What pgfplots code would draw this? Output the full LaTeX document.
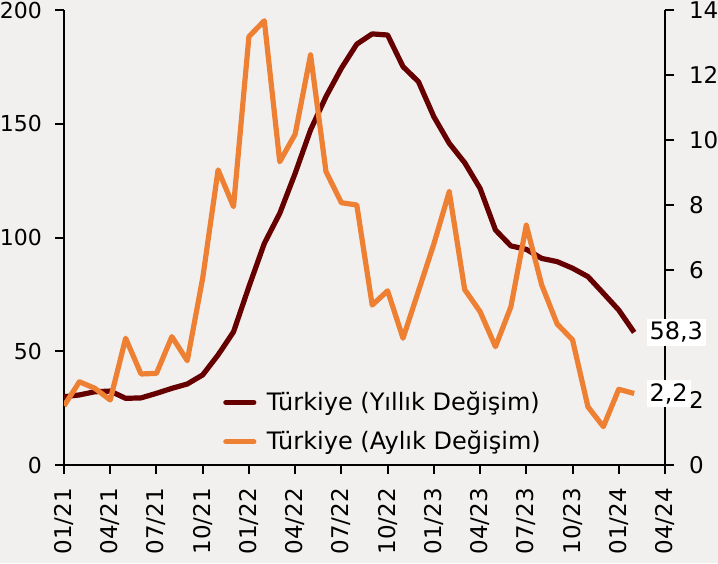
\documentclass[border=0pt]{standalone}
\usepackage{fontspec}
\setmainfont{DejaVu Sans}
\usepackage{pgfplots}
\usepackage{pgfplotstable}
\pgfplotsset{compat=1.18}
\definecolor{bg}{RGB}{242,240,239}
\definecolor{annual}{RGB}{102,0,0}
\definecolor{monthly}{RGB}{238,128,51}

\pgfplotstableread{
i v
0 30.0
1 30.8
2 32.2
3 32.5
4 29.3
5 29.5
6 31.5
7 33.7
8 35.6
9 39.6
10 48.4
11 58.5
12 78.4
13 97.4
14 110.6
15 128.2
16 147.3
17 161.9
18 174.4
19 185.0
20 189.5
21 189.0
22 175.1
23 168.5
24 153.1
25 141.4
26 132.9
27 121.6
28 103.3
29 96.3
30 94.8
31 90.8
32 89.4
33 86.5
34 82.8
35 75.5
36 68.1
37 58.3
}\annualdata

\pgfplotstableread{
i v
0 1.82
1 2.56
2 2.36
3 2.0
4 3.9
5 2.8
6 2.82
7 3.95
8 3.21
9 5.75
10 9.08
11 7.95
12 13.18
13 13.67
14 9.33
15 10.18
16 12.62
17 9.03
18 8.07
19 8.0
20 4.92
21 5.36
22 3.9
23 5.35
24 6.8
25 8.41
26 5.4
27 4.72
28 3.64
29 4.87
30 7.38
31 5.54
32 4.34
33 3.85
34 1.79
35 1.18
36 2.33
37 2.2
}\monthlydata

\begin{document}
\begin{tikzpicture}[x=1pt,y=1pt]
\useasboundingbox (-32,-49) rectangle (327,232.5);
\fill[bg] (-32,-49) rectangle (327,232.5);
\pgfplotsset{
  base/.style={
    scale only axis, width=300.5pt, height=227.5pt,
    at={(0,0)}, anchor=south west,
    xmin=0, xmax=39,
    tick align=outside, major tick length=4.5pt,
    axis line style={line width=1pt, -},
    every tick/.style={black, line width=1pt},
    tick label style={font=\fontsize{11.5}{13}\selectfont},
    /pgf/number format/assume math mode=true,
  }
}
\begin{axis}[base,
  ymin=0, ymax=200, ytick={0,50,100,150,200},
  axis y line*=left, axis x line*=bottom,
  xtick={0,3,...,39},
  xticklabels={01/21,04/21,07/21,10/21,01/22,04/22,07/22,10/22,01/23,04/23,07/23,10/23,01/24,04/24},
  xticklabel style={rotate=90, anchor=east},
  xticklabel shift=3.5pt,
  yticklabel shift=3pt,
  yticklabel style={font=\fontsize{11}{13}\selectfont},
  legend style={draw=none, fill=none, at={(0.25,0.18)}, anchor=north west,
    font=\fontsize{12}{14}\selectfont, row sep=4.8pt},
  legend cell align=left,
  legend image code/.code={\draw[#1, line cap=round] (1.3pt,0pt) -- (15.3pt,0pt);
    \path (0pt,0pt) (18.5pt,0pt);},
]
\addplot[annual, line width=2.6pt, line join=round] table[x=i, y=v] {\annualdata};
\addlegendentry{Türkiye (Yıllık Değişim)}
\addlegendimage{monthly, line width=2.6pt}
\addlegendentry{Türkiye (Aylık Değişim)}
\coordinate (endA) at (axis cs:37,58.3);
\end{axis}
\begin{axis}[base,
  ymin=0, ymax=14, ytick={0,2,...,14},
  axis y line*=right, axis x line=none,
  yticklabel shift=4pt,
]
\addplot[monthly, line width=2.6pt, line join=round] table[x=i, y=v] {\monthlydata};
\coordinate (endM) at (axis cs:37,2.2);
\end{axis}
\node[fill=white, anchor=west, inner sep=1.5pt, xshift=6pt, font=\fontsize{12}{14}\selectfont] at (endA) {58,3};
\node[fill=white, anchor=west, inner sep=1.5pt, xshift=6pt, font=\fontsize{12}{14}\selectfont] at (endM) {2,2};
\end{tikzpicture}
\end{document}
